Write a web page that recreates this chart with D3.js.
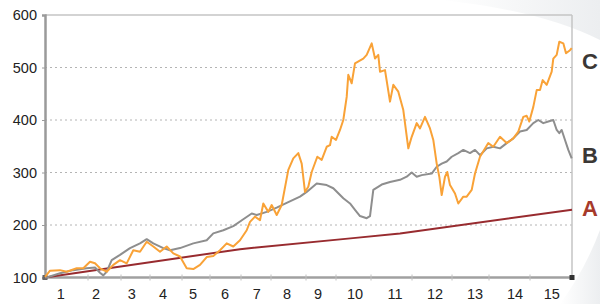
<!DOCTYPE html>
<html>
<head>
<meta charset="utf-8">
<script src="https://cdn.jsdelivr.net/npm/d3@7"></script>
<style>
  html, body { margin: 0; padding: 0; background: #fff; }
  svg { display: block; font-family: "Liberation Sans", Arial, Helvetica, sans-serif; }
</style>
</head>
<body>
<svg id="chart" width="600" height="304"></svg>
<script>
// period boundaries along the time axis (t units) and where each period's label sits
const periodEdges = [0, 43, 76, 105, 137, 165, 196, 226, 261, 291, 326, 367, 407, 444, 485, 527];
const periodLabels = ["1", "2", "3", "4", "5", "6", "7", "8", "9", "10", "11", "12", "13", "14", "15"];
const labelAt = [15.7, 51, 86.7, 118, 148, 180, 211.7, 242, 273, 310, 350, 390, 430, 470, 506.7];
const yTicks = [100, 200, 300, 400, 500, 600];

// series [t, value]
const seriesA = [[0, 100], [195, 154], [308, 175], [355, 184], [527, 229]];

const seriesB = [
  [0, 100], [1.7, 100], [15, 108], [28.3, 114], [41.7, 117.5], [50, 119], [55, 109], [58.3, 104],
  [61.7, 111], [66.7, 133], [75, 143], [85, 156], [95, 165], [101.7, 173], [108.3, 165], [118.3, 156],
  [125, 152], [135, 156], [148.3, 165], [161.7, 171], [168.3, 184], [178.3, 190], [188.3, 198],
  [198.3, 211], [206.7, 222], [211.7, 219], [221.7, 225], [231.7, 233], [241.7, 242], [255, 254],
  [261.7, 263], [271.7, 279], [281.7, 276], [288.3, 270], [298.3, 251], [305, 241], [310, 229],
  [315, 217], [321.7, 213], [325, 217], [328.3, 267], [336.7, 277], [345, 282], [355, 286],
  [361.7, 292], [366.7, 300], [371.7, 292], [376.7, 295], [386.7, 298], [391.7, 311], [396.7, 317],
  [401.7, 321], [406.7, 330], [413.3, 337], [418.3, 343], [425, 337], [430, 343], [435, 333],
  [441.7, 346], [448.3, 349], [455, 346], [461.7, 356], [468.3, 365], [475, 378], [481.7, 381],
  [488.3, 394], [493.3, 400], [498.3, 394], [503.3, 397], [508.3, 400], [511.7, 381], [514.3, 375],
  [516.7, 381], [520, 362], [523.3, 343], [526.7, 327]
];

const seriesC = [
  [0, 101], [1.7, 105], [5, 113], [15, 114], [21.7, 111], [31.7, 117.5], [38.3, 117.5], [45, 130],
  [50, 127], [55, 117.5], [61.7, 111], [65, 117.5], [68.3, 124], [75, 133], [81.7, 127], [88.3, 152],
  [95, 149], [101.7, 168], [108.3, 159], [115, 149], [121.7, 159], [128.3, 146], [135, 140],
  [141.7, 117.5], [148.3, 116], [155, 124], [161.7, 139], [168.3, 141], [175, 152], [181.7, 165],
  [188.3, 159], [195, 171], [201.7, 190], [205, 206], [210, 216], [215, 209], [218.3, 241],
  [223.3, 225], [226.7, 238], [231.7, 219], [236.7, 238], [243.3, 305], [248.3, 327], [253.3, 337],
  [256.7, 317], [260, 263], [263.3, 273], [266.7, 301], [272.3, 330], [276.7, 324], [281.7, 349],
  [285, 352], [286.7, 368], [291, 362], [295, 381], [298.3, 400], [301.7, 444], [303.3, 486],
  [306.7, 470], [310, 508], [318.3, 517], [321.7, 524], [326.7, 546], [330, 517], [333.3, 524],
  [335, 492], [340, 495], [345, 435], [348.3, 467], [353.3, 454], [358.3, 419], [363.3, 346],
  [366.7, 368], [371.7, 394], [375, 384], [380, 406], [385, 384], [388.3, 362], [391.7, 317],
  [394.3, 292], [396.7, 257], [400, 292], [402.3, 301], [405, 276], [410, 260], [413.3, 241],
  [418.3, 254], [421.7, 254], [426.7, 267], [430, 298], [435, 330], [443.3, 356], [448.3, 349],
  [455, 368], [461.7, 356], [468.3, 365], [473.3, 378], [478.3, 406], [481.7, 408], [484.3, 397],
  [488.3, 425], [491.7, 457], [495, 457], [497.7, 476], [501.7, 467], [506.7, 492], [508.3, 517],
  [511.7, 524], [514.3, 549], [518.3, 546], [521, 527], [525, 533], [526.7, 537]
];

const seriesNames = ["A", "B", "C"];

(function () {
  "use strict";

  const W = 600, H = 304;
  const M = { left: 45, right: 28, top: 15, bottom: 26.5 };

  const svg = d3.select("#chart");

  // faint background swooshes
  const defs = svg.append("defs");
  const grad = defs.append("linearGradient").attr("id", "sw").attr("x1", 0).attr("x2", 1).attr("y1", 0).attr("y2", 0);
  grad.append("stop").attr("offset", "0%").attr("stop-color", "#fff");
  grad.append("stop").attr("offset", "100%").attr("stop-color", "#eceef0");
  svg.append("path").attr("d", "M440,0 L600,0 L600,40 Q540,10 440,0 Z").attr("fill", "url(#sw)");
  svg.append("path").attr("d", "M600,230 L600,304 L560,304 Q585,270 600,230 Z").attr("fill", "url(#sw)");

  const x = d3.scaleLinear().domain([periodEdges[0], periodEdges[periodEdges.length - 1]]).range([M.left, W - M.right]);
  const y = d3.scaleLinear().domain([100, 600]).range([H - M.bottom, M.top]);

  const x0 = x.range()[0], x1 = x.range()[1];
  const y0 = y.range()[0], y1 = y.range()[1];

  // dotted gridlines
  svg.append("g")
    .selectAll("line")
    .data(yTicks.filter((d) => d > 100 && d < 600))
    .join("line")
    .attr("x1", x0).attr("x2", x1)
    .attr("y1", (d) => y(d)).attr("y2", (d) => y(d))
    .attr("stroke", "#b4b4b4")
    .attr("stroke-width", 1)
    .attr("stroke-dasharray", "2,3");

  // top / right frame
  svg.append("line").attr("x1", x0).attr("x2", x1).attr("y1", y1).attr("y2", y1).attr("stroke", "#c4c4c4").attr("stroke-width", 1.5);
  svg.append("line").attr("x1", x1).attr("x2", x1).attr("y1", y1).attr("y2", y0).attr("stroke", "#c4c4c4").attr("stroke-width", 1.5);

  // y axis
  const yAxis = d3.axisLeft(y).tickValues(yTicks).tickSize(3).tickPadding(5);
  const gy = svg.append("g").attr("transform", `translate(${x0},0)`).call(yAxis);
  gy.select(".domain").attr("stroke", "#9a9a9a").attr("stroke-width", 2.5);
  gy.selectAll(".tick line").attr("stroke", "#9a9a9a");
  gy.selectAll(".tick text").attr("fill", "#222").style("font-size", "14.5px").attr("font-family", null);

  // x axis: boundary ticks + period labels
  const gx = svg.append("g").attr("transform", `translate(0,${y0})`);
  gx.append("line").attr("x1", x0).attr("x2", x1).attr("stroke", "#a0a0a0").attr("stroke-width", 2.5);
  gx.selectAll("line.tk")
    .data(periodEdges.slice(1, -1))
    .join("line")
    .attr("class", "tk")
    .attr("x1", (d) => x(d)).attr("x2", (d) => x(d))
    .attr("y1", -3).attr("y2", 3)
    .attr("stroke", "#c0c0c0");
  gx.selectAll("text")
    .data(periodLabels)
    .join("text")
    .attr("x", (d, i) => x(labelAt[i]))
    .attr("y", 21)
    .attr("text-anchor", "middle")
    .attr("fill", "#222")
    .style("font-size", "14.5px")
    .text((d) => d);

  // corner markers
  svg.append("rect").attr("x", x0 - 2.5).attr("y", y0 - 2.5).attr("width", 5).attr("height", 5).attr("fill", "#666");
  svg.append("rect").attr("x", x1 - 2.5).attr("y", y0 - 2.5).attr("width", 5).attr("height", 5).attr("fill", "#333");

  const line = d3.line().x((d) => x(d[0])).y((d) => y(d[1]));

  const styles = {
    A: { data: seriesA, color: "#982b2f", label: "#a63a2b", ly: 208 },
    B: { data: seriesB, color: "#8e8e8e", label: "#3b3735", ly: 155 },
    C: { data: seriesC, color: "#f9a237", label: "#3b3735", ly: 61 }
  };

  ["A", "B", "C"].forEach((k) => {
    svg.append("path")
      .datum(styles[k].data)
      .attr("fill", "none")
      .attr("stroke", styles[k].color)
      .attr("stroke-width", 2)
      .attr("stroke-linejoin", "round")
      .attr("d", line);
  });

  svg.append("g")
    .selectAll("text")
    .data(seriesNames)
    .join("text")
    .attr("x", x1 + 10)
    .attr("y", (d) => styles[d].ly)
    .attr("dy", "0.36em")
    .attr("fill", (d) => styles[d].label)
    .style("font-size", "22px")
    .style("font-weight", "bold")
    .text((d) => d);
})();
</script>
</body>
</html>
